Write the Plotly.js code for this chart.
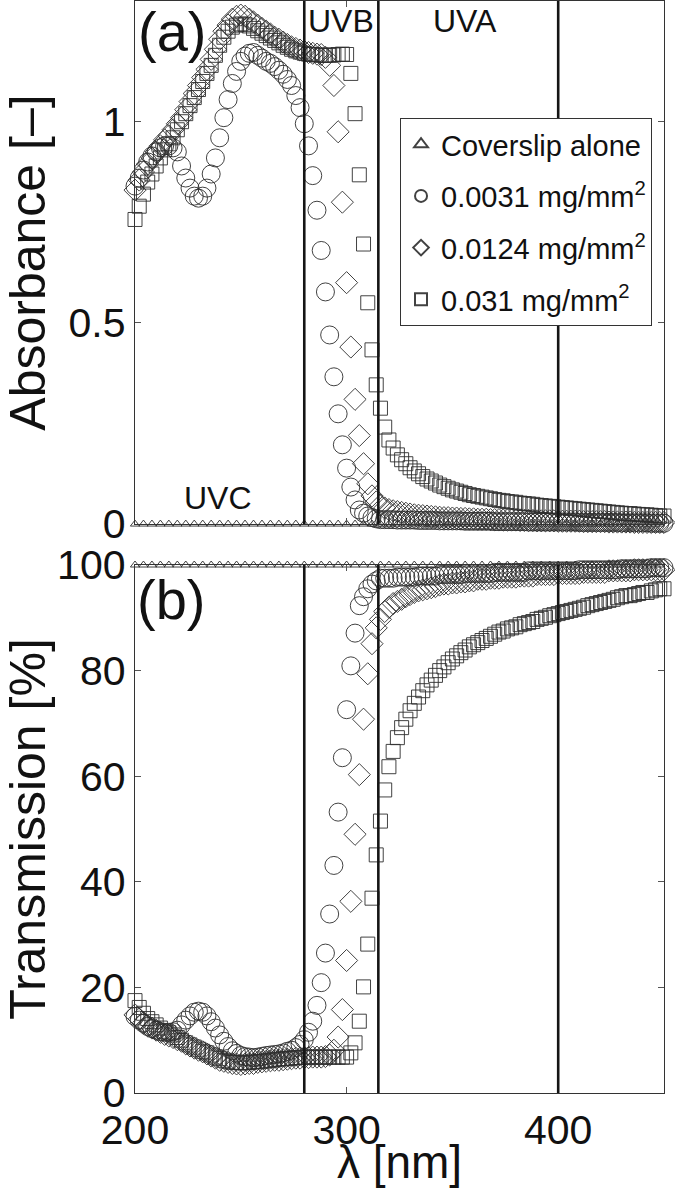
<!DOCTYPE html>
<html>
<head>
<meta charset="utf-8">
<script src="https://cdn.plot.ly/plotly-3.0.1.min.js"></script>
<style>html,body{margin:0;padding:0;background:#fff;}</style>
</head>
<body>
<div id="chart" style="width:675px;height:1188px;"></div>
<script>
// ---- data ----
const wavelength = [
  200,202,204,206,208,210,212,214,216,218,
  220,222,224,226,228,230,232,234,236,238,
  240,242,244,246,248,250,252,254,256,258,
  260,262,264,266,268,270,272,274,276,278,
  280,282,284,286,288,290,292,294,296,298,
  300,302,304,306,308,310,312,314,316,318,
  320,322,324,326,328,330,332,334,336,338,
  340,342,344,346,348,350,352,354,356,358,
  360,362,364,366,368,370,372,374,376,378,
  380,382,384,386,388,390,392,394,396,398,
  400,402,404,406,408,410,412,414,416,418,
  420,422,424,426,428,430,432,434,436,438,
  440,442,444,446,448,450
];
const coverWavelength = [
  200,204,208,212,216,220,224,228,232,236,
  240,244,248,252,256,260,264,268,272,276,
  280,284,288,292,296,300,304,308,312,316,
  320,324,328,332,336,340,344,348,352,356,
  360,364,368,372,376,380,384,388,392,396,
  400,404,408,412,416,420,424,428,432,436,
  440,444,448
];
const seriesNames = ['Coverslip alone', '0.0031 mg/mm<sup>2</sup>', '0.0124 mg/mm<sup>2</sup>', '0.031 mg/mm<sup>2</sup>'];

// Absorbance [-]
const absCover = [
  0,0,0,0,0,0,0,0,0,0, 0,0,0,0,0,0,0,0,0,0, 0,0,0,0,0,0,0,0,0,0,
  0,0,0,0,0,0,0,0,0,0, 0,0,0,0,0,0,0,0,0,0, 0,0,0,0,0,0,0,0,0,0, 0,0,0
];
const absLow = [
  0.84,0.86,0.88,0.90,0.915,0.925,0.935,0.94,0.94,0.935,
  0.925,0.89,0.86,0.835,0.815,0.81,0.815,0.835,0.87,0.91,
  0.96,1.01,1.055,1.095,1.125,1.15,1.163,1.17,1.172,1.165,
  1.158,1.15,1.145,1.137,1.128,1.118,1.105,1.09,1.065,1.035,
  0.995,0.94,0.866,0.78,0.68,0.577,0.47,0.366,0.274,0.197,
  0.139,0.092,0.06,0.035,0.027,0.02,0.016,0.013,0.011,0.011,
  0.011,0.011,0.010,0.010,0.010,0.010,0.010,0.009,0.009,0.009,
  0.009,0.009,0.008,0.008,0.008,0.008,0.008,0.008,0.007,0.007,
  0.007,0.007,0.007,0.007,0.007,0.006,0.006,0.006,0.006,0.006,
  0.006,0.006,0.006,0.005,0.005,0.005,0.005,0.005,0.005,0.005,
  0.005,0.005,0.005,0.005,0.005,0.004,0.004,0.004,0.004,0.004,
  0.004,0.004,0.004,0.004,0.004,0.003,0.003,0.003,0.003,0.003,
  0.003,0.003,0.002,0.002,0.002,0.002
];
const absMid = [
  0.83,0.855,0.875,0.895,0.91,0.925,0.94,0.955,0.965,0.98,
  0.995,1.01,1.03,1.05,1.07,1.09,1.11,1.13,1.155,1.18,
  1.205,1.225,1.24,1.255,1.262,1.265,1.262,1.255,1.248,1.24,
  1.232,1.225,1.218,1.21,1.205,1.198,1.192,1.186,1.182,1.178,
  1.175,1.172,1.17,1.168,1.167,1.16,1.14,1.09,0.975,0.80,
  0.60,0.44,0.31,0.22,0.15,0.10,0.07,0.055,0.047,0.04,
  0.036,0.033,0.031,0.029,0.027,0.025,0.023,0.022,0.021,0.02,
  0.019,0.018,0.017,0.016,0.016,0.015,0.015,0.014,0.014,0.013,
  0.013,0.012,0.012,0.012,0.011,0.011,0.011,0.010,0.010,0.010,
  0.010,0.009,0.009,0.009,0.009,0.008,0.008,0.008,0.008,0.008,
  0.007,0.007,0.007,0.007,0.007,0.007,0.006,0.006,0.006,0.006,
  0.006,0.006,0.005,0.005,0.005,0.005,0.005,0.005,0.004,0.004,
  0.004,0.004,0.004,0.004,0.004,0.004
];
const absHigh = [
  0.757,0.79,0.82,0.85,0.87,0.89,0.91,0.93,0.945,0.96,
  0.98,1.0,1.02,1.04,1.06,1.08,1.10,1.12,1.14,1.165,
  1.19,1.21,1.225,1.235,1.24,1.243,1.242,1.238,1.232,1.226,
  1.22,1.214,1.208,1.202,1.196,1.19,1.185,1.18,1.176,1.173,
  1.17,1.168,1.167,1.166,1.165,1.165,1.165,1.166,1.167,1.168,
  1.167,1.12,1.02,0.868,0.696,0.55,0.433,0.346,0.288,0.241,
  0.209,0.189,0.172,0.16,0.15,0.14,0.132,0.125,0.118,0.112,
  0.107,0.102,0.097,0.093,0.089,0.085,0.082,0.079,0.076,0.073,
  0.071,0.069,0.067,0.065,0.063,0.061,0.059,0.058,0.056,0.055,
  0.054,0.052,0.051,0.05,0.049,0.047,0.046,0.045,0.044,0.043,
  0.042,0.041,0.04,0.039,0.038,0.037,0.036,0.035,0.034,0.033,
  0.032,0.031,0.03,0.029,0.028,0.027,0.026,0.026,0.025,0.024,
  0.023,0.023,0.022,0.021,0.02,0.02
];

// Transmission [%]
const transCover = [
  100,100,100,100,100,100,100,100,100,100, 100,100,100,100,100,100,100,100,100,100,
  100,100,100,100,100,100,100,100,100,100, 100,100,100,100,100,100,100,100,100,100,
  100,100,100,100,100,100,100,100,100,100, 100,100,100,100,100,100,100,100,100,100,
  100,100,100
];
const transLow = [
  14.5,13.8,13.2,12.6,12.2,11.9,11.6,11.5,11.5,11.6,
  11.9,12.9,13.8,14.6,15.3,15.5,15.3,14.6,13.5,12.3,
  11.0,9.8,8.8,8.0,7.5,7.1,6.9,6.8,6.7,6.8,
  6.95,7.1,7.2,7.3,7.4,7.6,7.9,8.1,8.6,9.2,
  10.1,11.5,13.6,16.6,20.9,26.5,33.9,43.1,53.2,63.5,
  72.6,80.9,87.1,92.3,94.0,95.5,96.4,97.0,97.5,97.5,
  97.5,97.5,97.7,97.7,97.7,97.7,97.7,97.9,97.9,97.9,
  97.9,97.9,98.2,98.2,98.2,98.2,98.2,98.2,98.4,98.4,
  98.4,98.4,98.4,98.4,98.4,98.6,98.6,98.6,98.6,98.6,
  98.6,98.6,98.6,98.9,98.9,98.9,98.9,98.9,98.9,98.9,
  98.9,98.9,98.9,98.9,98.9,99.1,99.1,99.1,99.1,99.1,
  99.1,99.1,99.1,99.1,99.1,99.3,99.3,99.3,99.3,99.3,
  99.3,99.3,99.5,99.5,99.5,99.5
];
const transMid = [
  14.8,14.0,13.3,12.7,12.3,11.9,11.5,11.1,10.8,10.5,
  10.1,9.8,9.3,8.9,8.5,8.1,7.8,7.4,7.0,6.6,
  6.2,6.0,5.8,5.6,5.5,5.4,5.5,5.6,5.6,5.8,
  5.9,6.0,6.1,6.2,6.2,6.3,6.4,6.5,6.6,6.6,
  6.7,6.7,6.8,6.8,6.8,6.9,7.2,8.1,10.6,15.8,
  25.1,36.3,49.0,60.3,70.8,79.4,85.1,88.1,89.7,91.2,
  92.0,92.7,93.1,93.5,94.0,94.4,94.8,95.1,95.3,95.5,
  95.7,95.9,96.2,96.4,96.4,96.6,96.6,96.8,96.8,97.0,
  97.0,97.3,97.3,97.3,97.5,97.5,97.5,97.7,97.7,97.7,
  97.7,97.9,97.9,97.9,97.9,98.2,98.2,98.2,98.2,98.2,
  98.4,98.4,98.4,98.4,98.4,98.4,98.6,98.6,98.6,98.6,
  98.6,98.6,98.9,98.9,98.9,98.9,98.9,98.9,99.1,99.1,
  99.1,99.1,99.1,99.1,99.1,99.1
];
const transHigh = [
  17.5,16.2,15.1,14.1,13.5,12.9,12.3,11.7,11.4,11.0,
  10.5,10.0,9.5,9.1,8.7,8.3,7.9,7.6,7.2,6.8,
  6.5,6.2,6.0,5.8,5.8,5.7,5.7,5.8,5.9,5.9,
  6.0,6.1,6.2,6.3,6.4,6.5,6.5,6.6,6.7,6.7,
  6.8,6.8,6.8,6.8,6.8,6.8,6.8,6.8,6.8,6.8,
  6.8,7.6,9.5,13.6,20.1,28.2,36.9,45.1,51.5,57.4,
  61.8,64.7,67.3,69.2,70.8,72.4,73.8,75.0,76.2,77.3,
  78.2,79.1,80.0,80.7,81.5,82.2,82.8,83.4,83.9,84.5,
  84.9,85.3,85.7,86.1,86.5,86.9,87.3,87.5,87.9,88.1,
  88.3,88.7,88.9,89.1,89.3,89.7,89.9,90.1,90.4,90.6,
  90.8,91.0,91.2,91.4,91.6,91.8,92.0,92.3,92.5,92.7,
  92.9,93.1,93.3,93.5,93.8,94.0,94.2,94.2,94.4,94.6,
  94.8,94.8,95.1,95.3,95.5,95.5
];

const bandEdges = [280, 315, 400];
const bandLabels = ['UVC', 'UVB', 'UVA'];
const panelLabels = ['(a)', '(b)'];

// ---- styles ----
const FONT = 'Liberation Sans, Arial, Helvetica, sans-serif';
const symbols = ['triangle-up', 'circle', 'diamond', 'square'];
const sizes = [8, 18, 17, 14];
const strokeColor = 'rgba(45,45,45,0.9)';

function markerTrace(x, y, k, xa, ya, showLegend) {
  return {
    type: 'scatter', mode: 'markers', x: x, y: y,
    name: seriesNames[k], legendgroup: 'g' + k, showlegend: showLegend,
    xaxis: xa, yaxis: ya, cliponaxis: false, hoverinfo: 'skip',
    marker: { symbol: symbols[k], size: sizes[k], color: 'rgba(0,0,0,0)',
              line: { color: strokeColor, width: 1 } }
  };
}

const absSeries = [absCover, absLow, absMid, absHigh];
const transSeries = [transCover, transLow, transMid, transHigh];
const xSeries = [coverWavelength, wavelength, wavelength, wavelength];

const traces = [];
for (let k = 0; k < 4; k++) traces.push(markerTrace(xSeries[k], absSeries[k], k, 'x2', 'y', true));
for (let k = 0; k < 4; k++) traces.push(markerTrace(xSeries[k], transSeries[k], k, 'x', 'y2', false));

const shapes = [];
bandEdges.forEach(function (e) {
  shapes.push({ type: 'line', xref: 'x2', yref: 'y domain', x0: e, x1: e, y0: 0, y1: 1,
                line: { color: '#151515', width: 2.6 } });
  shapes.push({ type: 'line', xref: 'x', yref: 'y2 domain', x0: e, x1: e, y0: 0, y1: 1,
                line: { color: '#151515', width: 2.6 } });
});

const axisCommon = {
  showgrid: false, zeroline: false, showline: true, linecolor: '#333', linewidth: 1.3,
  mirror: 'ticks', ticks: 'inside', ticklen: 6, tickcolor: '#555', tickwidth: 1,
  tickfont: { family: FONT, size: 41, color: '#111' }
};

const layout = {
  width: 675, height: 1188,
  margin: { l: 135, r: 11, t: 1, b: 95 },
  paper_bgcolor: '#fff', plot_bgcolor: '#fff',
  font: { family: FONT, color: '#111' },
  showlegend: true,
  legend: {
    x: 0.501, xanchor: 'left', y: 0.893, yanchor: 'top',
    bgcolor: '#fff', bordercolor: '#333', borderwidth: 1,
    font: { family: FONT, size: 29, color: '#111' },
    traceorder: 'grouped', tracegroupgap: 11, itemsizing: 'constant'
  },
  xaxis: Object.assign({}, axisCommon, {
    domain: [0, 1], anchor: 'y2', range: [200, 450], tickvals: [200, 300, 400],
    title: { text: 'λ [nm]', font: { family: FONT, size: 46, color: '#111' }, standoff: 7 }
  }),
  xaxis2: Object.assign({}, axisCommon, {
    domain: [0, 1], anchor: 'y', range: [200, 450], tickvals: [200, 300, 400],
    matches: 'x', showticklabels: false
  }),
  yaxis: Object.assign({}, axisCommon, {
    domain: [0.521, 1], anchor: 'x2', range: [0, 1.3], tickvals: [0, 0.5, 1],
    ticktext: ['0', '0.5', '1'],
    title: { text: 'Absorbance [–]', font: { family: FONT, size: 50, color: '#111' } }
  }),
  yaxis2: Object.assign({}, axisCommon, {
    domain: [0, 0.4835], anchor: 'x', range: [0, 100], tickvals: [0, 20, 40, 60, 80, 100],
    title: { text: 'Transmission [%]', font: { family: FONT, size: 50, color: '#111' } }
  }),
  shapes: shapes,
  annotations: [
    { xref: 'x2', yref: 'y', x: 217.5, y: 1.225, text: panelLabels[0], showarrow: false,
      font: { family: FONT, size: 56, color: '#111' } },
    { xref: 'x', yref: 'y2', x: 217, y: 93.4, text: panelLabels[1], showarrow: false,
      font: { family: FONT, size: 56, color: '#111' } },
    { xref: 'x2', yref: 'y', x: 239, y: 0.066, text: bandLabels[0], showarrow: false,
      font: { family: FONT, size: 32, color: '#111' } },
    { xref: 'x2', yref: 'y', x: 297.5, y: 1.25, text: bandLabels[1], showarrow: false,
      font: { family: FONT, size: 32, color: '#111' } },
    { xref: 'x2', yref: 'y', x: 356, y: 1.25, text: bandLabels[2], showarrow: false,
      font: { family: FONT, size: 32, color: '#111' } }
  ]
};

Plotly.newPlot('chart', traces, layout, { displayModeBar: false, staticPlot: true });
</script>
</body>
</html>
